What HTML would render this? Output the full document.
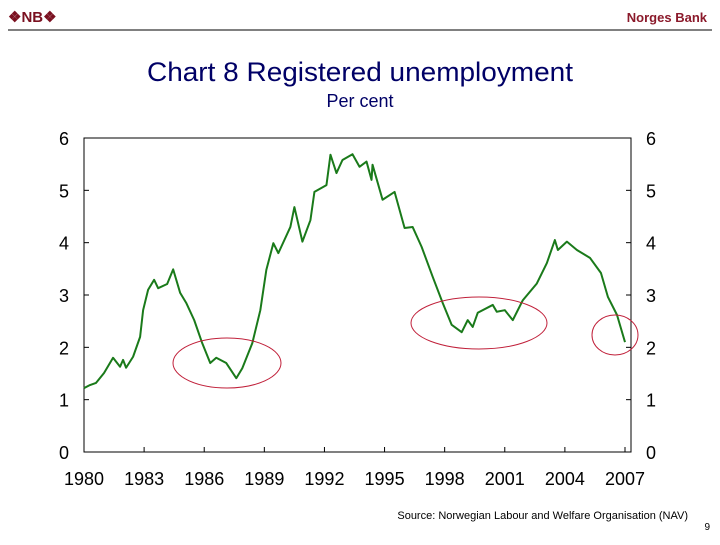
<!DOCTYPE html>
<html><head><meta charset="utf-8"><style>
body{margin:0;background:#fff;}
svg text{font-family:"Liberation Sans",Arial,sans-serif;}
</style></head><body>
<svg width="720" height="540" viewBox="0 0 720 540">
<text x="8" y="22" font-size="15" font-weight="bold" fill="#7a1020">❖NB❖</text>
<text x="707" y="22" font-size="13" font-weight="bold" fill="#8b1a2b" text-anchor="end">Norges Bank</text>
<line x1="8" y1="30" x2="712" y2="30" stroke="#000" stroke-width="1"/>
<text x="147" y="81" font-size="27" fill="#000066" textLength="426" lengthAdjust="spacingAndGlyphs">Chart 8 Registered unemployment</text>
<text x="360" y="107" font-size="18" fill="#000066" text-anchor="middle">Per cent</text>
<g id="plot"></g>
<text x="688" y="519" font-size="11" fill="#000" text-anchor="end">Source: Norwegian Labour and Welfare Organisation (NAV)</text>
<text x="710" y="530" font-size="10" fill="#000" text-anchor="end">9</text>
</svg>
<script>
const years=[1980.0,1980.3,1980.6,1981.0,1981.45,1981.8,1981.95,1982.1,1982.45,1982.8,1982.95,1983.2,1983.5,1983.7,1984.15,1984.45,1984.8,1985.1,1985.5,1985.9,1986.3,1986.6,1987.1,1987.6,1987.9,1988.4,1988.8,1989.1,1989.45,1989.7,1990.3,1990.5,1990.9,1991.3,1991.5,1992.1,1992.3,1992.6,1992.9,1993.4,1993.75,1994.1,1994.35,1994.4,1994.9,1995.5,1996.0,1996.4,1996.85,1997.4,1997.9,1998.35,1998.85,1999.15,1999.4,1999.65,2000.4,2000.6,2001.0,2001.4,2001.9,2002.6,2003.1,2003.5,2003.65,2004.1,2004.6,2005.25,2005.8,2006.15,2006.6,2007.0];
const values=[1.22,1.28,1.32,1.51,1.80,1.63,1.76,1.61,1.82,2.2,2.71,3.1,3.29,3.13,3.21,3.49,3.04,2.85,2.52,2.08,1.70,1.80,1.70,1.41,1.60,2.08,2.71,3.48,3.99,3.8,4.30,4.68,4.02,4.43,4.97,5.10,5.68,5.33,5.58,5.69,5.45,5.55,5.2,5.49,4.82,4.97,4.28,4.30,3.92,3.35,2.85,2.43,2.29,2.52,2.39,2.66,2.81,2.68,2.71,2.52,2.90,3.22,3.61,4.05,3.86,4.02,3.86,3.71,3.42,2.96,2.62,2.10];
const yTicks=[0,1,2,3,4,5,6];
const xTicks=[1980,1983,1986,1989,1992,1995,1998,2001,2004,2007];
const L=84,R=631,T=138,B=452;
const X=y=>L+(y-1980)*(625-84)/27;
const Y=v=>B-v*(B-T)/6;
const NS='http://www.w3.org/2000/svg';
const g=document.getElementById('plot');
function mk(tag,attrs){const e=document.createElementNS(NS,tag);for(const k in attrs)e.setAttribute(k,attrs[k]);g.appendChild(e);return e;}
let e=mk('rect',{x:L,y:T,width:R-L,height:B-T,fill:'none',stroke:'#000','stroke-width':1});


yTicks.forEach(v=>{
 let t=mk('line',{x1:L,x2:L+5,y1:Y(v),y2:Y(v),stroke:'#000'});
 
 
 t=mk('line',{x1:R-5,x2:R,y1:Y(v),y2:Y(v),stroke:'#000'});
 
 
 let a=mk('text',{x:64,y:Y(v)+7,'font-size':18,'text-anchor':'middle'});a.textContent=v;
 
 
 let b=mk('text',{x:651,y:Y(v)+7,'font-size':18,'text-anchor':'middle'});b.textContent=v;
 
 
});
xTicks.forEach(y=>{
 let t=mk('line',{x1:X(y),x2:X(y),y1:B-5,y2:B,stroke:'#000'});
 
 
 let a=mk('text',{x:X(y),y:485,'font-size':18,'text-anchor':'middle'});a.textContent=y;
 
 
});
let p=mk('polyline',{points:years.map((y,i)=>X(y)+','+Y(values[i])).join(' '),fill:'none',stroke:'#1a7a1a','stroke-width':2,'stroke-linejoin':'round'});


[[227,363,54,25],[479,323,68,26],[615,335,23,20]].forEach(c=>{
 let el=mk('ellipse',{cx:c[0],cy:c[1],rx:c[2],ry:c[3],fill:'none',stroke:'#c0203a','stroke-width':1});
 
 
});
</script>
</body></html>
